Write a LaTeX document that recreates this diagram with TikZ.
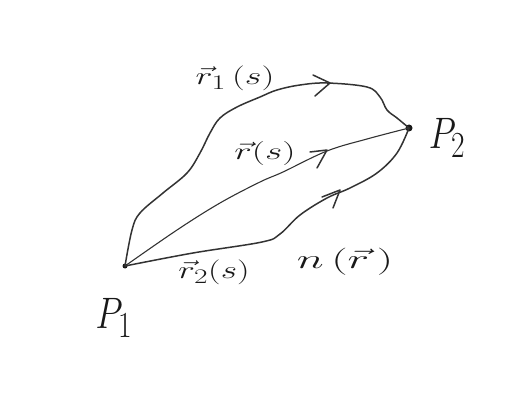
\documentclass[tikz,border=0pt]{standalone}
\begin{document}
\begin{tikzpicture}[x=1pt,y=-1pt,
  pencil/.style={draw=black!80,line width=1.5pt,line cap=round,line join=round},
  thinpencil/.style={draw=black!80,line width=1.1pt,line cap=round,line join=round},
  lbl/.style={text=black!90,inner sep=0pt,font=\Huge},
  dot/.style={circle,fill=black!90,inner sep=0pt,minimum size=#1},
  dot/.default=5pt]
\useasboundingbox (0,0) rectangle (508,403);
\node[dot] (P1) at (125,266) {};
\node[dot=7pt] (P2) at (409,128) {};
% upper curve r1
\draw[pencil] plot[smooth,tension=0.6] coordinates {(P1) (132,230) (140,213) (163,193) (187,173) (200,153) (210,133) (220,118) (237,107) (260,97) (277,90) (300,85) (327,83) (367,87) (380,97) (387,110) (397,118) (P2)};
% middle curve r
\draw[thinpencil] plot[smooth,tension=0.6] coordinates {(P1) (177,230) (220,203) (260,182) (283,172) (327,151) (367,139) (P2)};
% lower curve r2
\draw[pencil] plot[smooth,tension=0.6] coordinates {(P1) (193,253) (262,242) (280,234) (300,215) (327,198) (350,188) (377,173) (397,153) (P2)};
% arrowheads
\coordinate (a1) at (330,83);
\draw[pencil] (313,75) -- (a1) -- (315,96);
\coordinate (a2) at (327,150);
\draw[pencil] (310,152) -- (a2) -- (317,168);
\coordinate (a3) at (340,190);
\draw[pencil] (322,197) -- (a3) -- (333,208);
% labels
\node[lbl] (l1) at (235,78) {\scalebox{1.45}[1.0]{$\vec r_1\,(s)$}};
\node[lbl] (l0) at (265,153) {\scalebox{1.5}[0.97]{$\vec r(s)$}};
\node[lbl] (l2) at (214,272) {\scalebox{1.42}[1.0]{$\vec r_2(s)$}};
\node[lbl] (ln) at (345,262) {\scalebox{1.85}[1.09]{$n\,(\vec r\,)$}};
\node[lbl] (lP1) at (114,318) {\scalebox{1.42}[1.77]{$P_1$}};
\node[lbl] (lP2) at (447,138) {\scalebox{1.42}[1.77]{$P_2$}};
\end{tikzpicture}
\end{document}
